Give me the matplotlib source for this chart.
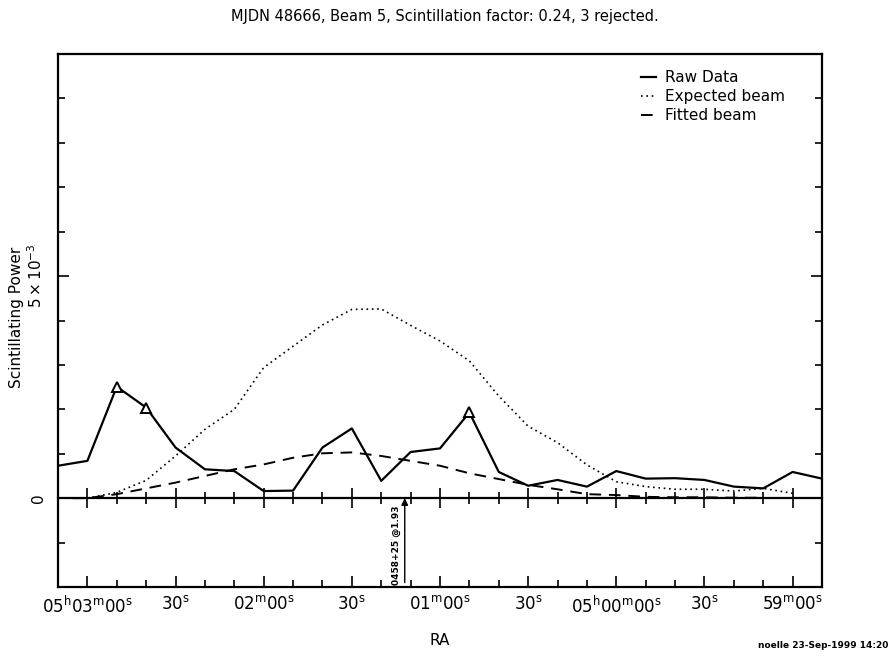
from matplotlib import pyplot as plt
import numpy as np

# RA in seconds relative to 05h00m00s (axis runs backwards in RA)
ra_sec = [190, 180, 170, 160, 150, 140, 130, 120, 110, 100, 90, 80, 70, 60,
          50, 40, 30, 20, 10, 0, -10, -20, -30, -40, -50, -60, -70]

# powers in units of 1e-3
raw_data = [0.73, 0.84, 2.51, 2.04, 1.14, 0.65, 0.61, 0.16, 0.17, 1.14, 1.57,
            0.39, 1.04, 1.12, 1.93, 0.59, 0.28, 0.41, 0.26, 0.61, 0.44, 0.45,
            0.41, 0.26, 0.22, 0.59, 0.44]

exp_ra = [180, 170, 160, 150, 140, 130, 120, 110, 100, 90, 80, 70, 60, 50,
          40, 30, 20, 10, 0, -10, -20, -30, -40, -50, -60]
expected_beam = [0.0, 0.13, 0.40, 0.95, 1.55, 2.00, 2.94, 3.42, 3.90, 4.25,
                 4.26, 3.89, 3.54, 3.09, 2.30, 1.62, 1.25, 0.75, 0.37, 0.26,
                 0.20, 0.20, 0.16, 0.22, 0.11]

fit_ra = [185, 180, 170, 160, 150, 140, 130, 120, 110, 100, 90, 80, 70, 60,
          50, 40, 30, 20, 10, 0, -10, -20, -30, -40, -50]
fitted_beam = [0.0, 0.0, 0.09, 0.22, 0.35, 0.50, 0.65, 0.76, 0.91, 1.01, 1.03,
               0.95, 0.84, 0.73, 0.56, 0.43, 0.30, 0.20, 0.09, 0.07, 0.03,
               0.02, 0.02, 0.01, 0.01]

rejected_ra = [170, 160, 50]
rejected_val = [2.51, 2.04, 1.93]

major_ra = [180, 150, 120, 90, 60, 30, 0, -30, -60]
major_labels = [r'05$^{\rm h}$03$^{\rm m}$00$^{\rm s}$', r'30$^{\rm s}$',
                r'02$^{\rm m}$00$^{\rm s}$', r'30$^{\rm s}$',
                r'01$^{\rm m}$00$^{\rm s}$', r'30$^{\rm s}$',
                r'05$^{\rm h}$00$^{\rm m}$00$^{\rm s}$', r'30$^{\rm s}$',
                r'59$^{\rm m}$00$^{\rm s}$']
minor_ra = list(range(-60, 190, 10))

source_ra = 72
source_label = '0458+25 @1.93'

fig = plt.figure(figsize=(8.9, 6.52), dpi=100)
ax = fig.add_axes([58 / 890, 1 - 587 / 652, 764 / 890, 533 / 652])

ax.plot(ra_sec, raw_data, color='black', lw=1.6, label='Raw Data')
ax.plot(exp_ra, expected_beam, color='black', lw=1.2, ls=(0, (1, 2.2)),
        label='Expected beam')
ax.plot(fit_ra, fitted_beam, color='black', lw=1.4, ls=(0, (6, 4)),
        label='Fitted beam')
ax.plot(rejected_ra, rejected_val, ls='none', marker='^', ms=6.5,
        mfc='white', mec='black', mew=1.4)

ax.set_xlim(190, -70)
ax.set_ylim(-2, 10)

ax.set_xticks(major_ra)
ax.set_xticklabels(major_labels, fontsize=12)
ax.set_xticks(minor_ra, minor=True)
ax.set_yticks([0, 5])
ax.set_yticklabels(['0', r'$5\times10^{-3}$'], fontsize=11, rotation=90,
                   va='center')
ax.set_yticks(range(-2, 11), minor=True)

ax.tick_params(which='both', direction='in', top=True, right=True, width=1.2)
ax.tick_params(which='major', length=8)
ax.tick_params(which='minor', length=5)
ax.tick_params(axis='x', pad=6)
ax.tick_params(axis='y', pad=9)
for s in ax.spines.values():
    s.set_linewidth(1.6)

# zero line with crossing ticks
ax0 = ax.twiny()
ax0.set_xlim(190, -70)
ax0.spines['bottom'].set_position(('data', 0))
ax0.spines['bottom'].set_linewidth(1.6)
for k in ['top', 'left', 'right']:
    ax0.spines[k].set_visible(False)
ax0.xaxis.set_ticks_position('bottom')
ax0.set_xticks(major_ra)
ax0.set_xticks(minor_ra, minor=True)
ax0.tick_params(which='both', direction='inout', labelbottom=False, width=1.2)
ax0.tick_params(which='major', length=14)
ax0.tick_params(which='minor', length=9)

ax.annotate('', xy=(source_ra, 0), xytext=(source_ra, -1.9),
            arrowprops=dict(arrowstyle='-|>', color='black', lw=1.0,
                            mutation_scale=10, shrinkA=0, shrinkB=0))
ax.text(source_ra + 1.2, -1.05, source_label, rotation=90, fontsize=6.5,
        fontweight='bold', ha='right', va='center')

ax.set_xlabel('RA', fontsize=11, labelpad=12)
ax.set_ylabel('Scintillating Power', fontsize=11, labelpad=4)
ax.yaxis.set_label_coords(-0.044, 0.505)

ax.legend(loc='upper right', frameon=False, fontsize=11, handlelength=1.0,
          handletextpad=0.6, labelspacing=0.25, bbox_to_anchor=(0.97, 0.995))

fig.text(0.5, 1 - 16 / 652, 'MJDN 48666, Beam 5, Scintillation factor: 0.24, 3 rejected.',
         ha='center', va='center', fontsize=10.5)
fig.text(888 / 890, 1 - 645 / 652, 'noelle 23-Sep-1999 14:20', ha='right',
         va='center', fontsize=6.5, fontweight='bold')

plt.savefig('out.png', dpi=100)
